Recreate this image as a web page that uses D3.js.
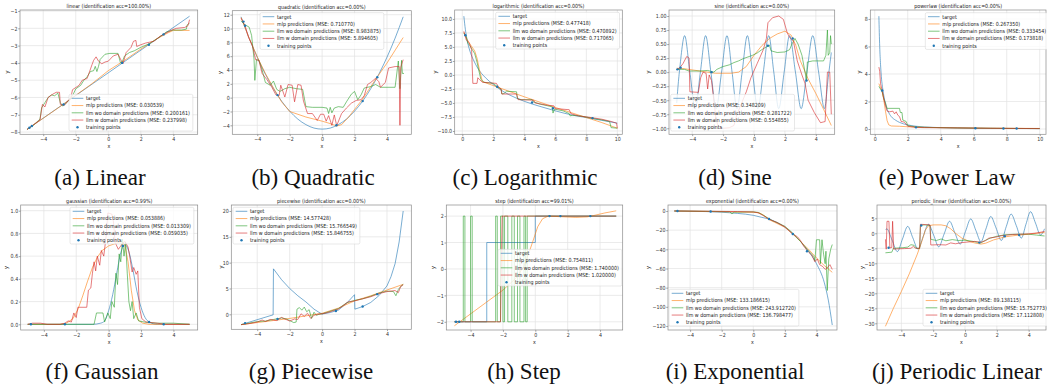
<!DOCTYPE html>
<html>
<head>
<meta charset="utf-8">
<script src="https://cdn.jsdelivr.net/npm/d3@7"></script>
<style>
  body { margin: 0; background: #fff; }
  svg { display: block; }
</style>
</head>
<body>
<svg id="chart" width="1047" height="391"></svg>
<script>
// ---- (a) linear ----
const linearTarget = [[-5,-7.85],[5,-1.3]];
const linearMlp = [[-5,-7.85],[-3,-6.55],[-1,-5.2],[0,-4.45],[1,-3.85],[2,-3.2],[3,-2.6],[3.7,-2.25],[4,-2.12],[5,-2.12]];
const linearWo = [[-5,-7.85],[-4.6,-7.6],[-4.2,-7.25],[-4.1,-6.6],[-3.9,-6.3],[-3.7,-6.0],[-3.5,-5.85],[-3.3,-5.9],[-3.1,-5.75],[-2.95,-6.3],[-2.8,-6.5],[-2.5,-6.25],[-2.2,-5.9],[-2.0,-5.5],[-1.7,-5.3],[-1.5,-5.0],[-1.3,-4.8],[-1.1,-4.5],[-0.9,-4.45],[-0.8,-4.2],[-0.7,-4.5],[-0.6,-4.2],[-0.5,-3.8],[-0.2,-3.5],[0.1,-3.45],[0.6,-3.45],[0.75,-4.0],[0.85,-3.95],[1.0,-3.6],[1.3,-3.4],[1.6,-3.3],[2.0,-3.1],[2.5,-2.9],[3.0,-2.6],[3.3,-2.4],[3.6,-2.2],[4.0,-2.1],[4.5,-2.1],[4.8,-2.05],[4.85,-1.8],[5,-1.7]];
const linearW = [[-5,-7.85],[-4.2,-7.3],[-4.05,-6.4],[-3.9,-6.55],[-3.7,-6.0],[-3.4,-5.8],[-3.2,-5.7],[-3.0,-5.7],[-2.95,-6.4],[-2.7,-6.45],[-2.3,-6.0],[-2.2,-5.55],[-1.8,-5.3],[-1.6,-5.0],[-1.3,-4.9],[-1.0,-4.1],[-0.9,-3.85],[-0.75,-3.65],[-0.6,-3.9],[-0.4,-4.05],[-0.2,-3.95],[0,-3.9],[0.3,-3.6],[0.6,-3.5],[0.9,-4.05],[1.1,-3.4],[1.4,-3.1],[1.55,-2.75],[1.7,-2.7],[1.75,-3.05],[2.0,-2.95],[2.3,-2.85],[2.8,-2.75],[3.2,-2.45],[3.5,-2.3],[3.9,-2.1],[4.2,-2.0],[4.7,-1.95],[4.9,-1.85],[5,-1.5]];
const linearTrain = [[-4.85,-7.75],[-4.7,-7.65],[-2.75,-6.4],[0.85,-4.0],[2.5,-2.95],[3.4,-2.35]];
const linearMse = ["0.030539","0.200161","0.237998"];

// ---- (b) quadratic ----
const quadTarget = [[-5,11.7],[-4.5,8.6],[-4,5.85],[-3.5,3.4],[-3,1.3],[-2.5,-0.5],[-2,-1.95],[-1.5,-3.1],[-1,-3.9],[-0.5,-4.4],[0,-4.55],[0.5,-4.4],[1,-3.9],[1.5,-3.1],[2,-1.95],[2.5,-0.5],[3,1.3],[3.5,3.4],[4,5.85],[4.5,8.6],[5,11.7]];
const quadMlp = [[-5,11.6],[-4.5,8.6],[-4,5.9],[-3.5,3.5],[-3,1.4],[-2.5,-0.6],[-2,-2.0],[-1,-2.8],[0,-3.4],[0.5,-3.75],[0.9,-4.1],[1.2,-3.9],[1.6,-2.9],[2,-1.7],[2.5,-0.2],[3,1.6],[3.4,3.0],[4,5.0],[5,8.7]];
const quadWo = [[-5,11.1],[-4.8,10.6],[-4.5,10.2],[-4.35,9.0],[-4.2,5.6],[-4.15,2.5],[-4.05,5.5],[-3.9,5.4],[-3.7,4.0],[-3.5,2.2],[-3.2,1.8],[-3.0,2.4],[-2.8,1.2],[-2.6,0.9],[-2.3,1.3],[-2.0,1.5],[-1.6,1.3],[-1.2,1.2],[-1.0,-1.3],[-0.6,-1.4],[0,-1.4],[0.3,-1.5],[0.4,-2.3],[0.5,-1.4],[0.6,-2.2],[0.75,-1.5],[1.0,-1.3],[1.3,-1.4],[1.5,-0.6],[1.8,0.5],[2.0,0.9],[2.2,-0.3],[2.4,0.4],[2.6,1.4],[3.0,1.6],[3.3,1.9],[3.6,1.5],[4.5,1.5],[4.7,5.3],[4.8,1.3],[4.9,5.4],[4.95,3.5],[5.05,3.5]];
const quadW = [[-5,11.5],[-4.75,10.4],[-4.55,8.8],[-4.3,7.5],[-4.1,5.5],[-3.9,5.4],[-3.7,3.5],[-3.4,2.6],[-3.1,1.5],[-2.85,0.4],[-2.65,0.3],[-2.55,1.8],[-2.3,0.1],[-2.1,1.9],[-1.85,1.8],[-1.7,-0.6],[-1.5,1.9],[-1.3,1.8],[-1.15,-0.5],[-0.9,-2.3],[-0.6,-2.3],[-0.3,-3.3],[-0.1,-2.4],[0.1,-2.4],[0.25,-3.4],[0.4,-2.6],[0.6,-4.0],[0.75,-2.5],[0.9,-4.05],[1.2,-2.3],[1.5,-1.5],[1.8,-0.8],[2.1,-0.4],[2.4,-0.3],[2.6,0.3],[2.8,1.9],[3.0,2.2],[3.3,2.8],[3.5,2.3],[3.6,1.5],[3.9,2.2],[4.1,4.3],[4.5,4.5],[4.75,4.5],[4.8,-4.0],[4.85,4.4],[5,5.5]];
const quadTrain = [[-4.85,11.0],[-4.75,10.4],[-2.75,0.37],[0.88,-4.0],[2.5,-0.5],[3.4,2.95]];
const quadMse = ["0.710770","8.983875","5.894605"];

// ---- (c) logarithmic ----
const logTarget = [[0.1,10.5],[0.2,8.1],[0.3,6.4],[0.5,4.2],[0.75,2.5],[1,1.2],[1.5,-0.5],[2,-1.7],[2.5,-2.7],[3,-3.5],[4,-4.7],[5,-5.6],[6,-6.4],[7,-7.1],[8,-7.6],[9,-8.1],[10,-8.6]];
const logMlp = [[0.1,7.6],[0.3,6.4],[0.5,5.5],[0.8,4.3],[0.95,3.0],[1.1,1.0],[1.3,-1.2],[1.6,-1.5],[2.3,-2.2],[4,-3.9],[6,-5.8],[8,-7.6],[9,-8.5],[10,-9.5]];
const logWo = [[0.1,7.5],[0.25,6.8],[0.35,5.7],[0.5,5.2],[0.65,4.5],[0.8,3.8],[0.95,2.3],[1.05,1.0],[1.2,-0.8],[1.4,-1.3],[2.0,-1.5],[2.3,-2.2],[2.5,-2.5],[2.55,-3.4],[2.7,-3.3],[2.85,-2.9],[3.5,-3.0],[3.55,-4.2],[3.8,-4.4],[4.5,-4.4],[4.6,-4.8],[5.0,-5.2],[5.5,-5.5],[5.8,-5.7],[5.85,-6.8],[5.95,-6.1],[6.5,-6.4],[6.9,-6.9],[6.95,-7.3],[7.1,-7.2],[7.5,-7.3],[8.0,-7.5],[8.5,-7.8],[9.0,-8.0],[9.5,-8.3],[9.6,-9.4],[10,-9.5]];
const logW = [[0.1,7.8],[0.25,6.3],[0.45,5.7],[0.6,4.5],[0.68,-1.5],[0.95,-1.5],[1.0,-0.5],[1.1,-0.8],[1.3,-1.3],[2.2,-1.5],[2.35,-2.2],[2.5,-2.5],[2.55,-3.4],[3.5,-3.4],[3.6,-4.4],[4.6,-4.5],[4.7,-5.0],[5.5,-5.4],[5.9,-5.5],[6.0,-6.0],[6.9,-6.2],[7.0,-6.9],[7.5,-7.3],[8.3,-7.6],[9.0,-7.9],[9.6,-8.3],[9.95,-8.6],[10,-9.5]];
const logTrain = [[0.2,7.1],[2.25,-2.1],[4.5,-4.9],[5.85,-5.95],[8.4,-7.7]];
const logMse = ["0.477418","0.470892","0.717065"];

// ---- (d) sine ----
const sineTarget = [[-5,-0.55],[-4.83,0],[-4.49,0.65],[-4.15,0],[-3.8,-0.65],[-3.47,0],[-3.13,0.65],[-2.79,0],[-2.45,-0.65],[-2.1,0],[-1.75,0.65],[-1.42,0],[-1.1,-0.65],[-0.77,0],[-0.43,0.65],[-0.1,0],[0.25,-0.65],[0.6,0],[0.95,0.65],[1.28,0],[1.6,-0.65],[1.95,0],[2.3,0.65],[2.68,0],[3.05,-0.65],[3.42,0],[3.8,0.65],[4.18,0],[4.55,-0.65],[4.8,-0.1],[5,0.35]];
const sineMlp = [[-5,0.07],[-4.5,0.06],[-4,0.04],[-3,0.0],[-2.5,-0.02],[-2,-0.02],[-1.5,-0.02],[-1,0.0],[-0.5,0.1],[0,0.3],[0.5,0.47],[1,0.6],[1.5,0.68],[2,0.73],[2.4,0.66],[2.7,0.48],[3,0.2],[3.5,-0.12],[4,-0.38],[4.5,-0.66],[5,-0.95]];
const sineWo = [[-5,0.05],[-4.5,0.05],[-4.2,0.02],[-3.5,0.02],[-3.0,0.03],[-2.6,0.0],[-2.4,0.05],[-2.0,0.1],[-1.6,0.13],[-1.3,0.17],[-1.0,0.2],[-0.7,0.24],[-0.4,0.27],[-0.1,0.3],[0.2,0.34],[0.5,0.4],[0.8,0.45],[1.0,0.48],[1.1,0.38],[1.5,0.35],[2.0,0.36],[2.3,0.4],[2.45,0.5],[2.65,0.6],[2.85,0.5],[3.1,0.3],[3.3,0.0],[3.4,-0.15],[3.45,0.18],[3.8,0.2],[4.5,0.2],[4.65,0.3],[4.75,0.75],[4.8,0.3],[4.9,0.35],[4.95,0.65],[5,0.5]];
const sineW = [[-5,0.04],[-4.8,0.08],[-4.6,0.15],[-4.35,0.28],[-4.2,0.25],[-4.15,-0.35],[-3.6,-0.36],[-3.45,-0.1],[-3.3,0.0],[-3.1,-0.02],[-3.0,-0.3],[-2.9,-0.05],[-2.75,-0.15],[-2.6,-0.5],[-2.45,-0.85],[-2.3,-0.97],[-2.0,-1.0],[-1.6,-0.99],[-1.3,-0.95],[-1.1,-0.75],[-0.8,-0.55],[-0.5,-0.35],[-0.2,-0.1],[0.2,0.15],[0.6,0.4],[0.8,0.6],[0.9,0.88],[1.2,0.97],[1.6,1.0],[1.9,0.94],[2.15,0.7],[2.3,0.62],[2.55,0.55],[2.8,0.2],[3.1,-0.05],[3.3,-0.2],[3.5,-0.5],[3.9,-0.72],[4.3,-0.9],[4.6,-0.88],[4.75,0.0],[4.9,0.0],[5,-0.75]];
const sineTrain = [[-4.95,0.05],[-4.75,0.08],[-2.75,0.0],[0.9,0.47],[2.5,0.6],[3.4,-0.15]];
const sineMse = ["0.348209","0.281722","0.554855"];

// ---- (e) powerlaw ----
const powTarget = [[0.25,8.2],[0.3,6.0],[0.35,4.7],[0.4,3.8],[0.5,2.8],[0.6,2.1],[0.7,1.6],[0.8,1.3],[1.0,0.9],[1.25,0.65],[1.5,0.48],[2,0.3],[2.5,0.2],[3,0.15],[4,0.1],[6,0.06],[8,0.04],[10,0.03]];
const powMlp = [[0.25,3.3],[0.35,3.0],[0.45,2.7],[0.55,2.1],[0.65,1.3],[0.75,0.6],[0.85,0.3],[1.0,0.22],[1.5,0.2],[2,0.16],[3,0.12],[5,0.08],[7,0.06],[10,0.04]];
const powWo = [[0.25,3.1],[0.35,2.9],[0.45,2.7],[0.55,2.2],[0.65,1.9],[0.75,1.5],[1.5,1.5],[1.55,1.2],[1.65,1.2],[1.7,0.65],[1.9,0.55],[2.0,0.25],[2.5,0.15],[3,0.12],[5,0.08],[7,0.05],[10,0.03]];
const powW = [[0.25,4.5],[0.3,4.2],[0.35,3.3],[0.45,2.8],[0.55,2.2],[0.65,1.7],[0.75,1.3],[0.9,1.25],[1.1,1.3],[1.2,1.1],[1.3,1.25],[1.4,1.0],[1.5,0.9],[1.6,0.55],[1.8,0.5],[1.9,0.35],[2.0,0.2],[2.5,0.12],[3,0.1],[5,0.08],[7,0.05],[10,0.03]];
const powTrain = [[0.45,2.8],[2.5,0.12],[6.1,0.06],[7.8,0.04],[8.6,0.04]];
const powMse = ["0.267350","0.333454","0.173818"];

// ---- (f) gaussian ----
const gaussTarget = [[-5,0],[-1,0.0],[-0.5,0.01],[-0.25,0.03],[0,0.12],[0.25,0.26],[0.5,0.45],[0.75,0.63],[1.0,0.7],[1.25,0.64],[1.5,0.48],[1.75,0.29],[2.0,0.15],[2.25,0.06],[2.5,0.02],[3,0.0],[5,0]];
const gaussMlp = [[-5,0],[-3,0.0],[-2.6,0.01],[-2.2,0.05],[-1.9,0.13],[-1.6,0.25],[-1.3,0.38],[-1.0,0.5],[-0.7,0.59],[-0.4,0.65],[0,0.69],[0.4,0.71],[0.8,0.73],[1.0,0.7],[1.2,0.55],[1.4,0.3],[1.6,0.12],[1.8,0.04],[2.1,0.01],[2.5,0],[5,0]];
const gaussWo = [[-5,0],[-0.9,0.0],[-0.75,0.1],[-0.35,0.1],[-0.25,0.02],[-0.05,0.1],[0.1,0.05],[0.2,0.2],[0.35,0.15],[0.45,0.45],[0.55,0.35],[0.65,0.62],[0.75,0.55],[0.85,0.75],[0.95,0.6],[1.05,0.72],[1.15,0.45],[1.25,0.2],[1.35,0.12],[1.45,0.2],[1.55,0.05],[1.7,0.1],[1.85,0.03],[2.2,0.02],[3,0.01],[4,0.01],[5,0]];
const gaussW = [[-5,0],[-4.7,0.01],[-4.2,0.01],[-3.8,0.0],[-3.0,0.0],[-2.7,0.01],[-2.5,0.03],[-2.3,0.02],[-2.15,0.1],[-2.0,0.06],[-1.9,0.15],[-1.35,0.15],[-1.25,0.3],[-1.1,0.32],[-1.0,0.45],[-0.9,0.55],[-0.8,0.47],[-0.7,0.6],[-0.55,0.52],[-0.45,0.65],[-0.3,0.6],[-0.15,0.78],[-0.05,0.98],[0.2,0.97],[0.3,0.9],[0.4,0.72],[0.6,0.66],[0.8,0.7],[1.0,0.73],[1.2,0.68],[1.3,0.6],[1.45,0.46],[1.55,0.5],[1.7,0.44],[1.8,0.47],[1.9,0.15],[2.05,0.05],[2.3,0.02],[3,0.01],[3.5,0],[5,0]];
const gaussTrain = [[-4.8,0],[-2.7,0],[0.88,0.69],[2.5,0.02],[3.4,0]];
const gaussMse = ["0.053886","0.013309","0.059035"];

// ---- (g) piecewise ----
const pieceTarget = [[-5,-2.0],[-3.02,-0.1],[-3.0,8.8],[-2.5,6.7],[-2,5.0],[-1.5,3.6],[-1,2.4],[-0.5,1.0],[-0.2,0.4],[0,0.05],[0.5,0.35],[1,0.8],[1.5,2.1],[2,3.8],[2.02,1.0],[2.5,1.5],[3,2.3],[3.5,3.6],[4,5.5],[4.25,7.3],[4.5,9.8],[4.75,14],[5,20]];
const pieceMlp = [[-5,-2.0],[-4,-1.6],[-3,-1.2],[-2,-0.8],[-1,-0.3],[0,0.2],[1,1.2],[2,2.6],[3,3.6],[4,4.7],[5,5.8]];
const pieceWo = [[-5,-2.0],[-4.5,-1.7],[-4,-1.4],[-3.5,-1.3],[-3,-1.0],[-2.5,-0.7],[-2.2,-0.9],[-2.0,-1.2],[-1.75,-1.6],[-1.6,-1.5],[-1.55,1.0],[-1.4,1.3],[-1.25,0.8],[-1.1,1.4],[-0.95,0.5],[-0.8,0.9],[-0.65,-0.8],[-0.5,0.4],[-0.35,-0.2],[-0.2,0.0],[0,0.1],[0.5,0.6],[1,1.1],[1.5,2.2],[2,2.7],[2.5,3.0],[3,3.5],[3.5,4.1],[4,4.5],[4.4,4.4],[4.55,3.6],[4.7,4.8],[4.85,5.4],[5,5.8]];
const pieceW = [[-5,-2.0],[-4.5,-1.8],[-4,-1.5],[-3.7,-1.1],[-3.5,-1.4],[-3.2,-1.0],[-2.8,-1.2],[-2.5,-0.6],[-2.3,-0.9],[-2.0,-1.3],[-1.7,-0.9],[-1.5,-1.0],[-1.3,0.1],[-1.1,-0.4],[-0.9,0.2],[-0.7,-0.8],[-0.5,-0.2],[-0.3,0.0],[0,0.1],[0.3,0.3],[0.6,0.6],[1,1.0],[1.3,1.7],[1.6,2.4],[2,2.6],[2.5,3.0],[3,3.4],[3.5,4.0],[4,4.4],[4.5,4.6],[4.7,4.2],[4.85,5.4],[5,5.7]];
const pieceTrain = [[-4.75,-1.7],[-2.75,-0.9],[0.85,0.65],[2.5,1.5],[3.4,3.9]];
const pieceMse = ["14.577428","15.766549","15.846755"];

// ---- (h) step ----
const stepTarget = [[-5,-2],[-3,-2],[-3,1],[0,1],[0,2],[5,2]];
const stepMlp = [[-5,-2.15],[-4,-1.7],[-3,-1.25],[-2,-0.8],[-1.2,-0.35],[-0.7,0.1],[-0.4,0.6],[-0.15,1.05],[0.15,1.6],[0.45,1.9],[0.8,2.0],[1.5,1.98],[2.5,1.95],[3.2,1.97],[3.6,2.02],[4.3,2.12],[5,2.2]];
const stepWo = [[-5,-2],[-4.45,-2],[-4.45,2],[-4.35,2],[-4.35,-2],[-4.0,-2],[-4.0,2],[-3.9,2],[-3.9,-2],[-2.45,-2],[-2.45,2],[-2.35,2],[-2.35,-2],[-2.15,-2],[-2.15,2],[-2.0,2],[-2.0,-2],[-1.9,-2],[-1.9,2],[-1.7,2],[-1.7,-2],[-1.45,-2],[-1.45,2],[-1.3,2],[-1.3,-2],[-1.1,-2],[-1.1,2],[-0.95,2],[-0.95,-2],[-0.7,-2],[-0.7,2],[-0.6,2],[-0.6,-2],[-0.5,-2],[-0.5,2],[5,2]];
const stepW = [[-5,-2],[-2.15,-2],[-2.05,2],[5,2]];
const stepTrain = [[-4.9,-2],[-4.7,-2],[0.88,2],[1.55,2],[3.4,2]];
const stepMse = ["0.754811","1.740000","1.020000"];

// ---- (i) exponential ----
const expTarget = [[-5,0],[-4,-0.3],[-3,-0.6],[-2,-1.3],[-1,-2.5],[0,-4.5],[0.5,-6.5],[1,-8.5],[1.5,-12],[2,-17],[2.5,-24],[3,-32],[3.5,-42],[4,-55],[4.5,-75],[4.75,-93],[5,-119]];
const expMlp = [[-5,0],[-3,-0.5],[-1,-1.0],[0,-1.3],[0.4,-2.0],[0.7,-5],[1.0,-9],[1.5,-13],[2,-17],[2.5,-24],[3,-32],[3.5,-40],[4,-49],[4.5,-57],[5,-64]];
const expWo = [[-5,0],[-3,-0.3],[-1.5,-0.8],[-1.35,-3],[-1.2,-1.2],[0,-0.9],[0.3,-1.5],[0.6,-4],[0.9,-7],[1.2,-10],[1.5,-12],[2,-16],[2.5,-23],[3,-32],[3.4,-40],[3.7,-45],[3.85,-48],[3.9,-52],[4.0,-30],[4.2,-30],[4.25,-55],[4.35,-30],[4.45,-45],[4.55,-55],[4.6,-42],[4.68,-83],[4.78,-50],[4.9,-40],[5,-35]];
const expW = [[-5,0],[-3,-0.2],[-1,-0.6],[0,-1.0],[0.3,-1.8],[0.6,-4.5],[1.0,-8.5],[1.5,-12],[2,-16.5],[2.5,-24],[2.8,-27],[3,-31],[3.2,-37],[3.5,-43],[3.7,-46],[3.9,-53],[4.05,-50],[4.2,-56],[4.4,-58],[4.55,-61],[4.7,-59],[4.85,-56],[5,-61]];
const expTrain = [[-4.8,0],[-2.7,-0.5],[1.0,-8.3],[2.5,-24],[3.4,-42]];
const expMse = ["133.186615","243.912720","136.798477"];

// ---- (j) periodic_linear ----
const perTarget = [[-5,1.1],[-4.9,1.5],[-4.58,-2.3],[-4.25,-6.1],[-3.93,-1.9],[-3.6,2.3],[-3.28,-1.5],[-2.95,-5.3],[-2.63,-1.1],[-2.3,3.0],[-1.97,-0.6],[-1.65,-4.5],[-1.31,-0.2],[-0.97,4.0],[-0.64,0.2],[-0.3,-3.6],[0.03,0.6],[0.36,4.8],[0.68,1.0],[1.0,-2.8],[1.31,1.4],[1.62,5.6],[1.95,1.8],[2.28,-2.4],[2.59,2.2],[2.9,6.4],[3.22,2.6],[3.54,-1.6],[3.83,3.0],[4.12,7.2],[4.43,3.4],[4.75,-0.6],[5,1.5]];
const perMlp = [[-5,-31],[-4.5,-25],[-4,-19.4],[-3.5,-13.5],[-3.0,-7],[-2.7,-2.5],[-2.5,1.0],[-2.3,2.5],[-2.0,2.8],[-1.5,2.8],[-1.2,2.5],[-0.9,1.5],[-0.6,0.0],[-0.2,-1.6],[0.2,-2.6],[0.6,-3.2],[1.0,-3.6],[1.3,-3.3],[1.8,-2.2],[2.5,-1.2],[3.2,-0.7],[4,-0.3],[5,0.3]];
const perWo = [[-5,-6.5],[-4.6,-6.3],[-4.5,-5.0],[-3.9,-4.8],[-3.6,-4.6],[-3.4,-3.8],[-3.2,-4.0],[-3.05,-5.0],[-2.85,-5.0],[-2.8,2.7],[-2.5,2.8],[-2.2,2.6],[-2.15,-2.0],[-1.8,-2.4],[-1.5,-1.9],[-1.2,-2.5],[-0.8,-2.1],[-0.4,-2.4],[0,-2.3],[0.4,-2.6],[0.8,-3.0],[1.0,-3.2],[1.3,-2.3],[1.6,-1.6],[2.0,-1.0],[2.5,-0.5],[3.0,-0.35],[3.5,-0.3],[4.0,-0.3],[4.5,-0.6],[5,-0.9]];
const perW = [[-5,-2.0],[-4.95,-5.3],[-4.9,4.0],[-4.78,4.0],[-4.72,-4.9],[-4.6,-4.7],[-4.55,4.0],[-4.48,-5.3],[-4.3,-5.2],[-3.8,-5.1],[-3.4,-5.0],[-3.25,-4.4],[-3.1,-5.0],[-2.85,-5.0],[-2.8,3.0],[-2.5,2.9],[-2.2,2.8],[-2.15,-3.9],[-1.6,-3.8],[-1.2,-3.9],[-0.9,-3.2],[-0.6,-3.5],[-0.2,-3.1],[0.2,-2.9],[0.6,-2.7],[1.0,-3.0],[1.3,-2.4],[1.5,-1.6],[1.9,-1.3],[2.3,-0.8],[3,-0.4],[3.5,-0.3],[4,-0.2],[4.5,0.1],[5,0.6]];
const perTrain = [[-4.8,-4.8],[-2.75,2.6],[0.9,-3.1],[2.5,-1.0],[3.4,-0.6]];
const perMse = ["89.138115","15.752773","17.112808"];

const tickPm4 = [-4, -2, 0, 2, 4];
const tick0to10 = [0, 2, 4, 6, 8, 10];

const captions = ["(a) Linear","(b) Quadratic","(c) Logarithmic","(d) Sine","(e) Power Law",
                  "(f) Gaussian","(g) Piecewise","(h) Step","(i) Exponential","(j) Periodic Linear"];
const captionX = [100, 313, 525, 735, 947, 102, 311, 524, 735, 957];

const colors = { target: "#1f77b4", mlp: "#ff7f0e", wo: "#2ca02c", w: "#d62728" };
const SX = 0.85; // subfigures are squeezed horizontally in the paper
const FONT = "DejaVu Sans";

const panels = [
  { key: "a", title: "linear (identification acc=100.00%)", box: [20, 10, 197.7, 134.3],
    xDom: [-5.43, 5.5], yDom: [-8.13, -0.94], xTicks: tickPm4, yTicks: [-8,-7,-6,-5,-4,-3,-2,-1], yFmt: "d",
    target: linearTarget, mlp: linearMlp, wo: linearWo, w: linearW, train: linearTrain, mse: linearMse,
    smooth: "mono", legend: [69, 94.3], ylab: 13 },
  { key: "b", title: "quadratic (identification acc=0.00%)", box: [232.3, 10.7, 411.3, 134.3],
    xDom: [-5.54, 5.5], yDom: [-5.3, 12.58], xTicks: tickPm4, yTicks: [-4,-2,0,2,4,6,8,10,12], yFmt: "d",
    target: quadTarget, mlp: quadMlp, wo: quadWo, w: quadW, train: quadTrain, mse: quadMse,
    smooth: "mono", legend: [260, 12.7], ylab: 12.6 },
  { key: "c", title: "logarithmic (identification acc=0.00%)", box: [454.7, 10, 622.3, 134.3],
    xDom: [-0.49, 10.32], yDom: [-10.59, 11.6], xTicks: tick0to10, yTicks: [-10,-7.5,-5,-2.5,0,2.5,5,7.5,10], yFmt: ".1f",
    target: logTarget, mlp: logMlp, wo: logWo, w: logW, train: logTrain, mse: logMse,
    smooth: "mono", legend: [495.7, 12.3], ylab: 20 },
  { key: "d", title: "sine (identification acc=0.00%)", box: [669, 10, 834.7, 134.3],
    xDom: [-5.5, 5.22], yDom: [-1.107, 1.107], xTicks: tickPm4, yTicks: [-1,-0.75,-0.5,-0.25,0,0.25,0.5,0.75,1], yFmt: ".2f",
    target: sineTarget, mlp: sineMlp, wo: sineWo, w: sineW, train: sineTrain, mse: sineMse,
    smooth: "cr", legend: [670.7, 94.3], ylab: 21 },
  { key: "e", title: "powerlaw (identification acc=0.00%)", box: [870.3, 10, 1046, 134.3],
    xDom: [-0.27, 10.38], yDom: [-0.385, 8.65], xTicks: tick0to10, yTicks: [0,2,4,6,8], yFmt: "d",
    target: powTarget, mlp: powMlp, wo: powWo, w: powW, train: powTrain, mse: powMse,
    smooth: "mono", legend: [925.3, 12.7], ylab: 11.6 },
  { key: "f", title: "gaussian (identification acc=0.99%)", box: [20.7, 205, 197.7, 330],
    xDom: [-5.43, 5.5], yDom: [-0.05, 1.05], xTicks: tickPm4, yTicks: [0,0.2,0.4,0.6,0.8,1.0], yFmt: ".1f",
    target: gaussTarget, mlp: gaussMlp, wo: gaussWo, w: gaussW, train: gaussTrain, mse: gaussMse,
    smooth: "mono", legend: [70, 207.3], ylab: 14.7 },
  { key: "g", title: "piecewise (identification acc=0.00%)", box: [231.3, 205, 411.3, 329.3],
    xDom: [-5.6, 5.5], yDom: [-2.9, 21.16], xTicks: tickPm4, yTicks: [0,5,10,15,20], yFmt: "d",
    target: pieceTarget, mlp: pieceMlp, wo: pieceWo, w: pieceW, train: pieceTrain, mse: pieceMse,
    smooth: "none", legend: [233, 207.3], ylab: 10.6 },
  { key: "h", title: "step (identification acc=99.01%)", box: [446.3, 205, 622.7, 330],
    xDom: [-5.5, 5.4], yDom: [-2.31, 2.42], xTicks: tickPm4, yTicks: [-2,-1,0,1,2], yFmt: "d",
    target: stepTarget, mlp: stepMlp, wo: stepWo, w: stepW, train: stepTrain, mse: stepMse,
    smooth: "none", legend: [498, 249.3], ylab: 13 },
  { key: "i", title: "exponential (identification acc=0.00%)", box: [668, 205, 837, 330],
    xDom: [-5.4, 5.3], yDom: [-124.2, 6.26], xTicks: tickPm4, yTicks: [-120,-100,-80,-60,-40,-20,0], yFmt: "d",
    target: expTarget, mlp: expMlp, wo: expWo, w: expW, train: expTrain, mse: expMse,
    smooth: "mono", legend: [669, 289.3], ylab: 20 },
  { key: "j", title: "periodic_linear (identification acc=0.00%)", box: [877, 205, 1046, 330],
    xDom: [-5.53, 5.09], yDom: [-32.23, 9.43], xTicks: tickPm4, yTicks: [-30,-25,-20,-15,-10,-5,0,5], yFmt: "d",
    target: perTarget, mlp: perMlp, wo: perWo, w: perW, train: perTrain, mse: perMse,
    smooth: "cr", legend: [923, 289.3], ylab: 15 }
];

const svg = d3.select("#chart");

function squeezedText(g, x, y, s, size, anchor) {
  return g.append("text")
    .attr("transform", `translate(${x},${y}) scale(${SX},1)`)
    .attr("text-anchor", anchor)
    .attr("font-family", FONT)
    .attr("font-size", size)
    .attr("fill", "#222")
    .text(s);
}

function drawPanel(p) {
  const [l, t, r, b] = p.box;
  const g = svg.append("g");
  const x = d3.scaleLinear().domain(p.xDom).range([l, r]);
  const y = d3.scaleLinear().domain(p.yDom).range([b, t]);

  g.append("clipPath").attr("id", "clip-" + p.key)
    .append("rect").attr("x", l).attr("y", t).attr("width", r - l).attr("height", b - t);

  // grid
  g.append("g").selectAll("line").data(p.xTicks).join("line")
    .attr("x1", d => x(d)).attr("x2", d => x(d)).attr("y1", t).attr("y2", b)
    .attr("stroke", "#e2e2e2").attr("stroke-width", 0.7);
  g.append("g").selectAll("line").data(p.yTicks).join("line")
    .attr("y1", d => y(d)).attr("y2", d => y(d)).attr("x1", l).attr("x2", r)
    .attr("stroke", "#e2e2e2").attr("stroke-width", 0.7);

  // axes
  const ax = g.append("g").attr("transform", `translate(0,${b})`)
    .call(d3.axisBottom(x).tickValues(p.xTicks).tickFormat(d3.format("d")).tickSize(1.8).tickPadding(1.2));
  const ay = g.append("g").attr("transform", `translate(${l},0)`)
    .call(d3.axisLeft(y).tickValues(p.yTicks).tickFormat(d3.format(p.yFmt)).tickSize(1.8).tickPadding(1.2));
  [ax, ay].forEach(a => {
    a.select(".domain").remove();
    a.selectAll("line").attr("stroke", "#666").attr("stroke-width", 0.6);
    a.selectAll("text").attr("font-family", FONT).attr("font-size", 5.6).attr("fill", "#333")
      .attr("transform", `scale(${SX},1)`);
  });

  // series
  const curve = p.smooth === "mono" ? d3.curveMonotoneX
              : p.smooth === "cr" ? d3.curveCatmullRom.alpha(0.5) : d3.curveLinear;
  const line = d3.line().x(d => x(d[0])).y(d => y(d[1]));
  const plot = g.append("g").attr("clip-path", `url(#clip-${p.key})`);
  plot.append("path").attr("d", line.curve(curve)(p.target))
    .attr("fill", "none").attr("stroke", colors.target).attr("stroke-width", 1).attr("stroke-opacity", 0.6);
  [["mlp", p.mlp], ["wo", p.wo], ["w", p.w]].forEach(([k, data]) => {
    plot.append("path").attr("d", line.curve(d3.curveLinear)(data))
      .attr("fill", "none").attr("stroke", colors[k]).attr("stroke-width", 1)
      .attr("stroke-opacity", 0.6).attr("stroke-linejoin", "round");
  });
  plot.selectAll("circle").data(p.train).join("circle")
    .attr("cx", d => x(d[0])).attr("cy", d => y(d[1])).attr("r", 1.2)
    .attr("fill", colors.target);

  // frame
  g.append("rect").attr("x", l).attr("y", t).attr("width", r - l).attr("height", b - t)
    .attr("fill", "none").attr("stroke", "#8a8a8a").attr("stroke-width", 0.7);

  // title and labels
  squeezedText(g, (l + r) / 2, t - 2.2, p.title, 5.6, "middle");
  squeezedText(g, (l + r) / 2, b + 13.5, "x", 5.6, "middle");
  g.append("text")
    .attr("transform", `translate(${l - p.ylab + 2},${(t + b) / 2}) rotate(-90)`)
    .attr("text-anchor", "middle").attr("font-family", FONT).attr("font-size", 5.6)
    .attr("fill", "#222").text("y");

  // legend
  const items = [
    { label: "target", color: colors.target, kind: "line" },
    { label: `mlp predictions (MSE: ${p.mse[0]})`, color: colors.mlp, kind: "line" },
    { label: `llm wo domain predictions (MSE: ${p.mse[1]})`, color: colors.wo, kind: "line" },
    { label: `llm w domain predictions (MSE: ${p.mse[2]})`, color: colors.w, kind: "line" },
    { label: "training points", color: colors.target, kind: "dot" }
  ];
  const [lx, ly] = p.legend;
  const lg = g.append("g");
  const box = lg.append("rect").attr("x", lx).attr("y", ly).attr("height", 36.7).attr("rx", 1.5)
    .attr("fill", "#fff").attr("fill-opacity", 0.8).attr("stroke", "#d0d0d0").attr("stroke-width", 0.5);
  let maxW = 0;
  items.forEach((it, i) => {
    const cy = ly + 4 + i * 7.25;
    if (it.kind === "line") {
      lg.append("line").attr("x1", lx + 2.7).attr("x2", lx + 14.3).attr("y1", cy).attr("y2", cy)
        .attr("stroke", it.color).attr("stroke-width", 1).attr("stroke-opacity", 0.6);
    } else {
      lg.append("circle").attr("cx", lx + 8.5).attr("cy", cy).attr("r", 1.2).attr("fill", it.color);
    }
    const tx = squeezedText(lg, lx + 17, cy + 1.9, it.label, 5.6, "start");
    maxW = Math.max(maxW, tx.node().getComputedTextLength() * SX);
  });
  box.attr("width", 17 + maxW + 3);
}

panels.forEach(drawPanel);

// subfigure captions
svg.append("g").selectAll("text").data(captions).join("text")
  .attr("x", (d, i) => captionX[i])
  .attr("y", (d, i) => i < 5 ? 185 : 379)
  .attr("text-anchor", "middle")
  .attr("font-family", "Liberation Serif")
  .attr("font-size", 23)
  .attr("fill", "#111")
  .text(d => d);
</script>
</body>
</html>
